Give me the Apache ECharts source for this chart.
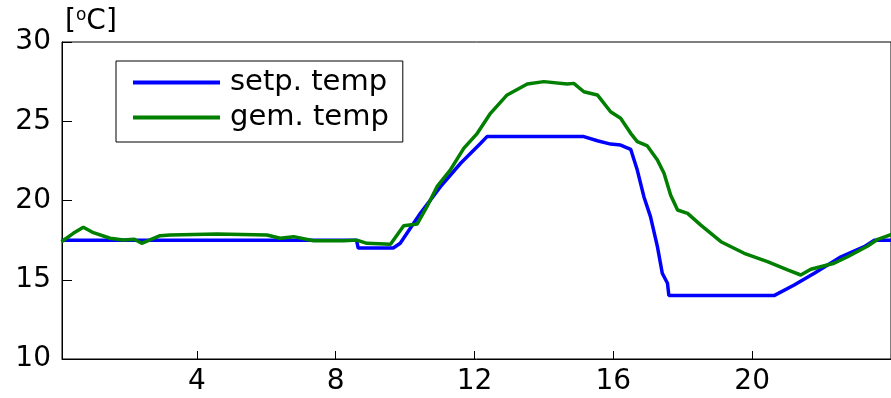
<!DOCTYPE html>
<html>
<head>
<meta charset="utf-8">
<script src="https://cdn.jsdelivr.net/npm/echarts@6/dist/echarts.min.js"></script>
<style>
  html, body { margin: 0; padding: 0; background: #fff; }
  #chart { width: 891px; height: 398px; }
</style>
</head>
<body>
<div id="chart"></div>
<script>
// hours of the day, setpoint temperature
const setpTime = [0.1, 8.6, 8.65, 9.66, 9.86, 10.44, 11.02, 11.6, 12.17, 12.36, 15.15, 15.54, 15.92, 16.21, 16.5,
  16.69, 16.88, 17.07, 17.27, 17.41, 17.56, 17.6, 20.63, 21.21, 21.79, 22.56, 23.23, 23.52, 24.1]
const setpTemp = [17.5, 17.5, 17.0, 17.0, 17.3, 19.19, 20.87, 22.35, 23.6, 24.03, 24.03, 23.77, 23.56, 23.5, 23.23,
  21.92, 20.24, 18.98, 17.09, 15.41, 14.78, 14.0, 14.0, 14.67, 15.41, 16.45, 17.09, 17.5, 17.5]

// measured temperature
const gemTime = [0.1, 0.44, 0.73, 1.02, 1.5, 1.88, 2.2, 2.41, 2.94, 3.23, 4.58, 6.02, 6.4, 6.79, 7.36, 8.23, 8.61, 8.9,
  9.58, 9.96, 10.35, 10.63, 10.92, 11.3, 11.69, 12.08, 12.46, 12.94, 13.52, 14.0, 14.67, 14.86, 15.15, 15.54,
  15.92, 16.21, 16.5, 16.69, 16.98, 17.27, 17.46, 17.65, 17.85, 18.14, 18.52, 19.1, 19.77, 20.44, 21.02, 21.4,
  21.69, 22.36, 22.75, 23.33, 23.62, 24.1]
const gemTemp = [17.4, 17.93, 18.31, 17.97, 17.62, 17.51, 17.55, 17.3, 17.78, 17.82, 17.89, 17.82, 17.62, 17.72, 17.46, 17.46, 17.5, 17.3,
  17.24, 18.41, 18.52, 19.61, 20.87, 21.92, 23.29, 24.24, 25.5, 26.66, 27.35, 27.5, 27.35, 27.39, 26.86, 26.66,
  25.6, 25.19, 24.24, 23.71, 23.44, 22.56, 21.72, 20.35, 19.4, 19.19, 18.45, 17.4, 16.67, 16.14, 15.62, 15.3,
  15.66, 16.04, 16.45, 17.13, 17.55, 17.93]

const xTicks = [4, 8, 12, 16, 20]
const yTicks = [10, 15, 20, 25, 30]

const pairs = (xs, ys) => xs.map((x, i) => [x, ys[i]])
const font = 'DejaVu Sans'

let myChart = echarts.init(document.getElementById('chart'))
myChart.setOption({
  animation: false,
  title: {
    text: '{a|[}{b|o}{a|C]}',
    left: 60,
    top: 2,
    textStyle: {
      rich: {
        a: { fontFamily: font, fontSize: 28, fontWeight: 'normal', color: '#000' },
        b: { fontFamily: font, fontSize: 17, fontWeight: 'normal', color: '#000', padding: [0, 0, 12, 0] }
      }
    }
  },
  grid: {
    left: 62, right: -2, top: 42, bottom: 39,
    show: true, borderColor: '#000', borderWidth: 1
  },
  legend: {
    orient: 'vertical',
    left: 116,
    top: 61,
    padding: [7, 14, 10, 17],
    itemGap: 6,
    itemWidth: 87,
    itemHeight: 4,
    icon: 'rect',
    borderColor: '#000',
    borderWidth: 1,
    backgroundColor: '#fff',
    textStyle: { fontFamily: font, fontSize: 29, color: '#000', lineHeight: 29, padding: [0, 0, 0, 5] },
    data: ['setp. temp', 'gem. temp']
  },
  xAxis: {
    type: 'value',
    min: 0.115,
    max: 24,
    axisLine: { lineStyle: { color: '#000', width: 1 } },
    axisTick: { inside: true, length: 8, customValues: xTicks, lineStyle: { color: '#000' } },
    axisLabel: { customValues: xTicks, fontFamily: font, fontSize: 28, color: '#000', margin: 9 },
    splitLine: { show: false }
  },
  yAxis: {
    type: 'value',
    min: 10,
    max: 30,
    interval: 5,
    axisLine: { show: true, lineStyle: { color: '#000', width: 1 } },
    axisTick: { show: true, inside: true, length: 10, lineStyle: { color: '#000' } },
    axisLabel: { customValues: yTicks, fontFamily: font, fontSize: 28, color: '#000', margin: 11 },
    splitLine: { show: false }
  },
  series: [
    {
      name: 'setp. temp',
      type: 'line',
      data: pairs(setpTime, setpTemp),
      showSymbol: false,
      color: '#0000ff',
      lineStyle: { width: 3.5, color: '#0000ff' },
      clip: true
    },
    {
      name: 'gem. temp',
      type: 'line',
      data: pairs(gemTime, gemTemp),
      showSymbol: false,
      color: '#007f00',
      lineStyle: { width: 3.5, color: '#007f00' },
      clip: true
    }
  ]
})
</script>
</body>
</html>
